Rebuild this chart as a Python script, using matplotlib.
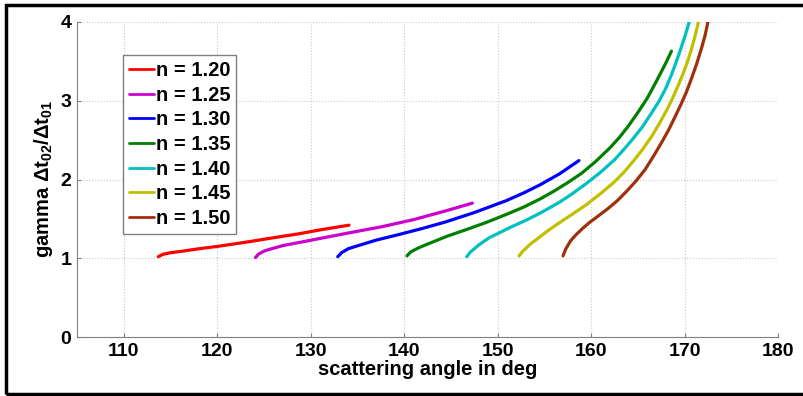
import matplotlib
matplotlib.use('Agg')
import matplotlib.pyplot as plt
from matplotlib.patches import Rectangle

plt.rcParams['font.family'] = ['Liberation Sans', 'DejaVu Sans']
plt.rcParams['font.weight'] = 'bold'
plt.rcParams['mathtext.fontset'] = 'custom'
plt.rcParams['mathtext.rm'] = 'Liberation Sans:bold'
plt.rcParams['mathtext.it'] = 'Liberation Sans:bold'
plt.rcParams['mathtext.bf'] = 'Liberation Sans:bold'

# data: scattering angle (deg) vs gamma
labels = ['n = 1.20', 'n = 1.25', 'n = 1.30', 'n = 1.35', 'n = 1.40', 'n = 1.45', 'n = 1.50']
colors = ['#ff0000', '#cc00cc', '#0000ff', '#008000', '#00c0c0', '#c0c000', '#a0300c']

x120 = [113.7, 114.2, 115.0, 116.3, 118.0, 120.0, 123.4, 126.0, 128.7, 131.0, 134.1]
y120 = [1.02, 1.05, 1.07, 1.09, 1.12, 1.15, 1.21, 1.26, 1.31, 1.36, 1.42]

x125 = [124.1, 124.4, 125.0, 125.5, 127.0, 130.5, 134.0, 137.6, 141.0, 144.4, 147.3]
y125 = [1.01, 1.05, 1.09, 1.11, 1.16, 1.24, 1.32, 1.40, 1.49, 1.60, 1.70]

x130 = [132.9, 133.3, 134.0, 134.8, 137.0, 139.4, 142.0, 144.4, 147.5, 150.9, 152.8, 154.5, 156.6, 158.7]
y130 = [1.02, 1.07, 1.12, 1.15, 1.23, 1.30, 1.38, 1.46, 1.58, 1.73, 1.83, 1.93, 2.07, 2.24]

x135 = [140.3, 140.7, 141.5, 142.3, 144.6, 146.8, 148.9, 150.9, 152.8, 154.5, 156.0, 157.5, 159.0,
        160.5, 162.0, 163.0, 164.0, 165.0, 166.0, 167.0, 168.0, 168.6]
y135 = [1.03, 1.08, 1.13, 1.17, 1.28, 1.37, 1.46, 1.555, 1.65, 1.75, 1.85, 1.96, 2.08,
        2.23, 2.40, 2.53, 2.68, 2.85, 3.03, 3.25, 3.48, 3.63]

x140 = [146.7, 147.1, 148.0, 149.1, 150.3, 151.5, 153.0, 154.5, 156.6, 158.0, 159.5, 161.0, 162.5,
        163.5, 164.5, 165.5, 166.5, 167.3, 168.0, 168.6, 169.1, 169.6, 170.1, 170.5]
y140 = [1.02, 1.08, 1.17, 1.26, 1.33, 1.40, 1.48, 1.57, 1.71, 1.82, 1.95, 2.09, 2.25,
        2.38, 2.52, 2.67, 2.85, 3.00, 3.16, 3.33, 3.49, 3.66, 3.84, 4.00]

x145 = [152.3, 152.7, 153.5, 154.5, 155.5, 156.6, 158.0, 159.5, 161.0, 162.5, 163.5, 164.5,
        165.5, 166.5, 167.3, 168.0, 168.6, 169.2, 169.8, 170.3, 170.7, 171.1, 171.5]
y145 = [1.03, 1.09, 1.18, 1.27, 1.36, 1.45, 1.56, 1.68, 1.82, 1.97, 2.09, 2.23,
        2.38, 2.55, 2.71, 2.86, 3.00, 3.16, 3.33, 3.49, 3.64, 3.81, 4.00]

x150 = [157.0, 157.3, 157.8, 158.4, 159.1, 159.9, 160.8, 161.8, 162.8, 163.8, 164.8, 165.8,
        166.7, 167.5, 168.3, 169.0, 169.6, 170.2, 170.8, 171.3, 171.8, 172.2, 172.5]
y150 = [1.03, 1.12, 1.22, 1.30, 1.38, 1.46, 1.54, 1.63, 1.73, 1.85, 1.98, 2.13,
        2.30, 2.46, 2.63, 2.80, 2.95, 3.11, 3.30, 3.47, 3.66, 3.83, 4.00]

xs = [x120, x125, x130, x135, x140, x145, x150]
ys = [y120, y125, y130, y135, y140, y145, y150]

fig = plt.figure(figsize=(8.04, 3.96), dpi=100)
ax = fig.add_axes([77 / 804, 59 / 396, 701 / 804, 315 / 396])

for x, y, c, lab in zip(xs, ys, colors, labels):
    ax.plot(x, y, color=c, lw=2.3, label=lab, solid_capstyle='round', solid_joinstyle='round')

ax.set_xlim(105, 180)
ax.set_ylim(0, 4)
ax.set_xticks(range(110, 181, 10))
ax.set_yticks(range(0, 5))
ax.grid(True, ls=':', color='#c8c8c8', lw=0.8)
ax.spines['top'].set_visible(False)
ax.spines['right'].set_visible(False)
for s in ['left', 'bottom']:
    ax.spines[s].set_color('#808080')
ax.tick_params(direction='in', length=3, color='#808080', labelsize=14, pad=4)

ax.set_xlabel('scattering angle in deg', fontsize=14.5, fontweight='bold', labelpad=0)
ax.set_ylabel(r'gamma $\Delta$t$_{02}$/$\Delta$t$_{01}$', fontsize=14.5, fontweight='bold', labelpad=4)

leg = ax.legend(loc='upper left', bbox_to_anchor=(0.065, 0.895), fontsize=14.5,
                fancybox=False, framealpha=1, edgecolor='#808080',
                handlelength=1.25, handletextpad=0.1, labelspacing=0.28,
                borderpad=0.3, borderaxespad=0)
for l in leg.get_lines():
    l.set_linewidth(2)

# black frame round the figure
fig.patches.append(Rectangle((6.5 / 804, 2.5 / 396), 1.2, 389 / 396,
                             transform=fig.transFigure, fill=False,
                             edgecolor='black', lw=2.5))

fig.savefig('out.png', dpi=100)
